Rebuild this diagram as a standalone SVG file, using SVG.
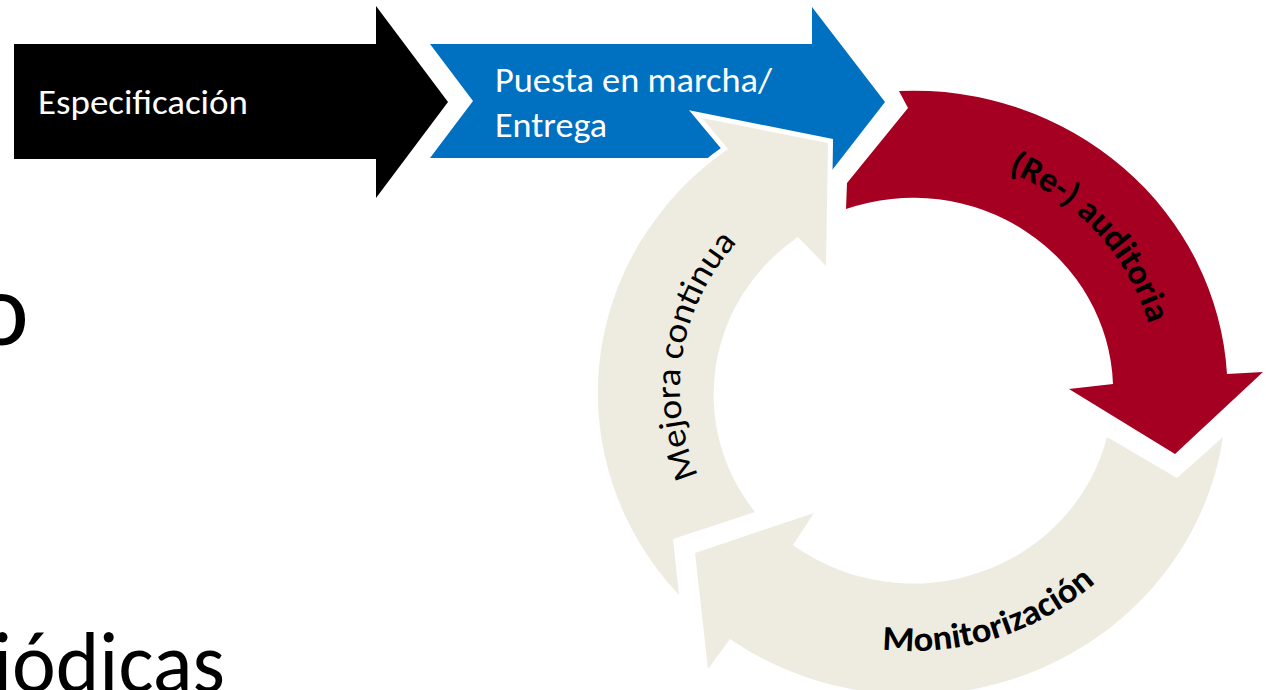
<svg xmlns="http://www.w3.org/2000/svg" width="1266" height="690" viewBox="0 0 1266 690">
  <style>
    .lbl { font-family: Carlito, Lato, "Liberation Sans", sans-serif; }
    .w { fill: #ffffff; font-size: 34px; }
    .arc { fill: #000000; font-size: 35px; }
    .b { font-weight: bold; }
    .beige { fill: #EEECE1; }
    .big { fill: #000000; font-family: Carlito, Lato, "Liberation Sans", sans-serif; }
  </style>
  <defs>
    <path id="pRed" d="M1008.1,171.8 A246,236 0 0,1 1154.3,348.0"/>
    <path id="pMej" d="M698.6,475.5 A232,222 0 0,1 746.5,232.6"/>
    <path id="pMon" d="M882.1,649.4 A273,262 0 0,0 1105,574.3"/>
  </defs>
  <rect width="1266" height="690" fill="#ffffff"/>

  <g id="background-text">
    <text class="big" x="-26" y="345" font-size="104">o</text>
    <text class="big" x="-7" y="692" font-size="86" textLength="232" lengthAdjust="spacingAndGlyphs">iódicas</text>
  </g>

  <g id="connectors"/>

  <g id="auditoria">
    <path fill="#A50021" d="M899,91 A314,301 0 0,1 1227,374 L1263,372 L1175,454 L1069,389 L1113,384 A200,193 0 0,0 846,209 L847,183 L908,108 Z"/>
    <text class="lbl arc b"><textPath href="#pRed" textLength="214" lengthAdjust="spacingAndGlyphs">(Re-) auditoria</textPath></text>
  </g>

  <g id="especificacion">
    <polygon fill="#000000" points="14,44 376,44 376,6 448,102 376,198 376,159 14,159"/>
    <text class="lbl w" x="38" y="114" textLength="210" lengthAdjust="spacingAndGlyphs">Especificación</text>
  </g>

  <g id="puesta-en-marcha">
    <polygon fill="#0070C0" points="430,44 812,44 812,7 885,102 812,196 812,158 430,158 473,101"/>
    <text class="lbl w" x="495" y="92" textLength="277" lengthAdjust="spacingAndGlyphs">Puesta en marcha/</text>
    <text class="lbl w" x="495" y="137" textLength="112" lengthAdjust="spacingAndGlyphs">Entrega</text>
  </g>

  <g id="monitorizacion">
    <path class="beige" d="M1223,437 A314,301 0 0,1 730,639 L708,669 L695,553 L814,513 L793,545 A200,193 0 0,0 1107,437 L1177,478 Z"/>
    <text class="lbl arc b"><textPath href="#pMon" textLength="230" lengthAdjust="spacingAndGlyphs">Monitorización</textPath></text>
  </g>

  <g id="mejora-continua">
    <path class="beige" stroke="#ffffff" stroke-width="10" stroke-linejoin="miter" paint-order="stroke" d="M679,595 A314,301 0 0,1 728,149 L702,118 L828,143 L826,266 L798,237 A200,193 0 0,0 755,512 L673,539 Z"/>
    <text class="lbl arc"><textPath href="#pMej" textLength="250" lengthAdjust="spacingAndGlyphs">Mejora continua</textPath></text>
  </g>
</svg>
